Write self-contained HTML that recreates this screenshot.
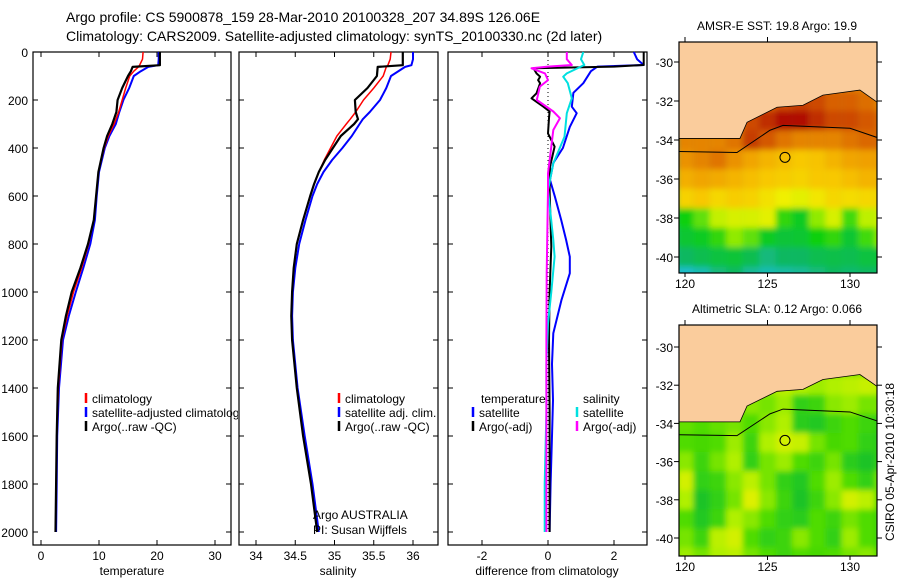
<!DOCTYPE html>
<html><head><meta charset="utf-8"><style>
html,body{margin:0;padding:0;background:#fff}
svg text{font-family:"Liberation Sans",sans-serif;fill:#000}
</style></head><body>
<svg id="fig" width="900" height="580" viewBox="0 0 900 580" xmlns="http://www.w3.org/2000/svg">
<defs>
<clipPath id="clipP1"><rect x="33" y="52" width="205" height="493"/></clipPath>
<clipPath id="clipM1"><rect x="679" y="42" width="198" height="231"/></clipPath>
<clipPath id="clipM2"><rect x="679" y="325" width="198" height="231"/></clipPath>
<filter id="blur" x="-5%" y="-5%" width="110%" height="110%"><feGaussianBlur stdDeviation="3"/></filter>
</defs>
<text x="66" y="22" font-size="14">Argo profile: CS 5900878_159 28-Mar-2010 20100328_207 34.89S 126.06E</text>
<text x="66" y="41" font-size="14">Climatology: CARS2009. Satellite-adjusted climatology: synTS_20100330.nc (2d later)</text>
<g id="g"></g>
</svg>
<script>
// ---- profile data (depth in dbar) ----
const tDep  = [0,30,55,62,80,100,150,200,250,300,350,400,500,600,700,800,900,1000,1100,1200,1400,1600,1800,2000];
const tClim = [17.6,17.5,17.0,16.8,16.0,15.3,14.6,14.0,13.4,12.6,11.6,10.9,9.9,9.5,9.1,8.2,7.0,5.6,4.5,3.6,3.0,2.7,2.6,2.5];
const tSat  = [20.3,20.3,20.2,18.5,17.2,16.0,15.2,14.2,13.5,12.9,11.8,11.0,10.0,9.6,9.3,8.5,7.3,6.0,4.8,3.8,3.1,2.8,2.7,2.6];
const tArgo = [20.5,20.5,20.5,15.8,15.5,15.0,14.0,13.2,13.0,12.3,11.4,10.8,9.9,9.5,9.1,8.1,6.8,5.3,4.3,3.5,2.9,2.7,2.6,2.5];
const sDep  = [0,30,55,62,100,150,200,250,280,300,350,400,450,500,550,600,700,800,900,1000,1100,1200,1400,1600,1800,2000];
const sClim = [35.72,35.71,35.68,35.66,35.62,35.5,35.37,35.27,35.2,35.15,35.03,34.95,34.87,34.8,34.74,34.69,34.6,34.52,34.48,34.46,34.45,34.46,34.52,34.6,34.7,34.78];
const sSat  = [36.0,36.0,35.98,35.9,35.72,35.66,35.58,35.45,35.36,35.32,35.22,35.1,34.97,34.86,34.78,34.72,34.63,34.55,34.5,34.47,34.46,34.47,34.53,34.62,34.72,34.8];
const sArgo = [35.87,35.87,35.87,35.55,35.54,35.42,35.26,35.27,35.3,35.25,35.08,34.98,34.88,34.8,34.74,34.69,34.6,34.52,34.48,34.46,34.45,34.46,34.52,34.6,34.7,34.78];
const dtSatDep = [0,30,54,61,80,130,170,228,255,312,400,462,533,603,700,783,853,922,1033,1172,1300,1450,1600,1800,2000];
const dtSat    = [2.6,2.7,2.9,1.5,1.3,1.07,0.77,0.72,0.87,0.66,0.45,0.16,0.06,0.21,0.4,0.55,0.66,0.66,0.41,0.16,0.12,0.15,0.12,0.08,0.05];
const dtArgoDep= [0,30,54,61,68,89,103,117,130,172,193,228,248,276,339,394,478,575,811,1000,1200,1500,1800,2000];
const dtArgo   = [2.9,2.9,2.9,2.0,-0.44,-0.35,-0.24,-0.3,-0.24,-0.35,-0.5,-0.14,0.05,0.03,0.0,0.2,0.06,0.05,0.1,0.05,0.03,0.05,0.05,0.05];
const dsSatDep = [0,30,54,89,103,130,193,255,353,464,575,783,853,1000,1131,1300,1500,1800,2000];
const dsSat    = [1.07,1.0,1.1,0.57,0.46,0.6,0.72,0.57,0.5,0.16,0.0,0.16,0.2,0.1,0.0,-0.05,-0.05,-0.1,-0.1];
const dsArgoDep= [0,30,54,61,68,89,117,144,200,248,276,325,394,506,575,922,1200,1500,1800,2000];
const dsArgo   = [0.57,0.57,0.72,0.0,-0.5,-0.09,0.0,-0.25,-0.34,0.16,0.36,0.16,0.1,0.0,0.0,-0.04,-0.05,-0.05,-0.05,-0.05];
const depthTicks = [0,200,400,600,800,1000,1200,1400,1600,1800,2000];
const tTicks = [0,10,20,30];
const sTicks = [34,34.5,35,35.5,36];
const dTicks = [-2,0,2];
// ---- map data ----
const mapLats = [-29,-30,-31,-32,-33,-34,-35,-36,-37,-38,-39,-40,-41];
const mapLons = [120,121,122,123,124,125,126,127,128,129,130,131,132];
const sstGrid = [
 [21,21,21,21,21,21,21,21,21,21,21,21,21],
 [21,21,21,21,21,21,21,21,21,21,21,21,21],
 [21,21,21,21,21,21,21,21,21,21,21,21,21],
 [21,21,21,21,21,21.5,21.8,22,21.8,21.5,21.5,21.3,21],
 [21,21,21,21,21.8,22.2,22.6,22.8,22.2,21.8,21.8,21.6,21.4],
 [21,21,21,21.2,22,21.6,21.2,21,21,21,21.2,21.4,21.4],
 [20.8,21,21.2,20.8,20.5,20.2,20,19.8,19.9,20.2,20.5,20.6,20.6],
 [20.3,20.5,20.4,20.2,20,19.8,19.7,19.6,19.8,19.8,20,20.2,20.2],
 [19.6,19.8,19.5,19.7,19.6,19.3,19,18.8,19.2,19.5,19.4,19.5,19.5],
 [17,17.5,18.3,18.6,18.6,18.8,17.2,16.8,17.8,18.6,17.3,18.2,18.4],
 [16.6,16.8,17.2,17.8,17.5,16.8,16.5,16.6,17,17.2,16.6,17.3,17.8],
 [16,16.2,16.4,16.5,16.2,15.8,16,16,16.2,16.3,16.2,16.4,16.5],
 [15.2,15.4,15.8,16,15.6,15.4,15.5,15.6,15.8,16,15.9,16,16]];
const slaGrid = [
 [0,0,0,0,0,0,0,0,0,0,0,0,0],
 [0,0,0,0,0,0,0,0,0,0,0,0,0],
 [0,0,0,0,0,0,0,0,0,0,0,0,0],
 [0,0,0,0,0,0.4,0.6,0.5,0.4,0.5,0.6,0.7,0.6],
 [0,0,0,0,0.3,0.2,0.4,-0.3,-0.2,0.3,0.4,0.2,0.2],
 [0.1,0.0,0.1,0.2,0.0,0.3,0.5,-0.4,-0.5,-0.2,0.0,-0.2,-0.3],
 [0.0,-0.1,0.0,0.4,-0.2,0.5,0.8,0.7,0.2,-0.1,0.0,-0.3,-0.4],
 [0.3,-0.2,0.2,0.5,-0.3,0.2,0.4,0.0,-0.2,0.2,-0.4,-0.6,-0.3],
 [0.8,-0.3,-0.2,0.3,0.6,0.2,-0.3,-0.5,0.0,0.4,0.0,-0.3,0.2],
 [0.5,-0.6,-0.3,0.2,0.9,0.3,-0.2,-0.6,-0.2,0.3,0.8,0.6,0.0],
 [0.0,-0.5,-0.2,0.5,0.3,0.0,-0.3,-0.4,0.0,-0.2,0.2,0.0,-0.2],
 [0.2,-0.2,0.6,0.8,0.0,-0.3,-0.2,0.3,0.0,-0.3,0.4,0.0,-0.2],
 [0.4,0.2,0.5,0.6,0.2,0.0,-0.2,0.0,-0.1,0.0,0.2,0.3,0.0]];
const coastLon = [119.5,123.33,123.76,125.58,127.15,128.36,130.6,131.64,132];
const coastLat = [-33.92,-33.92,-33.09,-32.32,-32.22,-31.70,-31.44,-32.06,-32.1];
const contLon = [119.5,123.15,125.15,125.94,130,131.64,132];
const contLat = [-34.59,-34.64,-33.5,-33.25,-33.4,-33.87,-33.9];
const argoLon = 126.06, argoLat = -34.89;
const mapLatTicks = [-30,-32,-34,-36,-38,-40];
const mapLonTicks = [120,125,130];

const NS='http://www.w3.org/2000/svg';
const G=document.getElementById('g');
function mk(tag,attrs,parent){const e=document.createElementNS(NS,tag);for(const k in attrs)e.setAttribute(k,attrs[k]);(parent||G).appendChild(e);return e;}
const yD = d => 52 + d*0.24;
function panel(x0,x1,v0,v1){return v=>x0+(v-v0)*(x1-x0)/(v1-v0);}
const xT = panel(41,215,0,30);
const xS = panel(256,413,34,36);
const xDf = panel(482,614,-2,2);
const panels=[{x:33,w:198,name:'temperature-panel'},{x:239,w:199,name:'salinity-panel'},{x:448,w:199,name:'difference-panel'}];
panels.forEach(p=>{
  const r=mk('rect',{x:p.x,y:52,width:p.w,height:493,fill:'#fff',stroke:'#000','stroke-width':1.2});
  
  
  depthTicks.forEach(d=>{
    const y=yD(d);
    const t1=mk('line',{x1:p.x,x2:p.x+5,y1:y,y2:y,stroke:'#000'});
    
    
    const t2=mk('line',{x1:p.x+p.w-5,x2:p.x+p.w,y1:y,y2:y,stroke:'#000'});
    
    
  });
});
depthTicks.forEach(d=>{
  const t=mk('text',{x:28,y:yD(d)+5,'font-size':12,'text-anchor':'end'});t.textContent=d;
  
  
});
function xticks(arr,fx){arr.forEach(v=>{const x=fx(v);
  const a=mk('line',{x1:x,x2:x,y1:52,y2:57,stroke:'#000'});
  
  
  const b=mk('line',{x1:x,x2:x,y1:540,y2:545,stroke:'#000'});
  
  
  const t=mk('text',{x:x,y:560,'font-size':12,'text-anchor':'middle'});t.textContent=v;
  
  
});}
xticks(tTicks,xT);xticks(sTicks,xS);xticks(dTicks,xDf);
[[132,'temperature','temperature-axis-title'],[338,'salinity','salinity-axis-title'],[547,'difference from climatology','difference-axis-title']].forEach(a=>{
  const t=mk('text',{x:a[0],y:575,'font-size':12,'text-anchor':'middle'});t.textContent=a[1];
  
  
});
const z=mk('line',{x1:xDf(0),x2:xDf(0),y1:yD(0),y2:yD(2000),stroke:'#000','stroke-dasharray':'1,3'});


function series(dep,vals,fx,color,w,name){
  const pts=dep.map((d,i)=>fx(vals[i]).toFixed(1)+','+yD(d).toFixed(1)).join(' ');
  const e=mk('polyline',{points:pts,fill:'none',stroke:color,'stroke-width':w,'stroke-linejoin':'round'});
  
  
}
series(tDep,tSat,xT,'#0000ff',2,'temperature-satellite-line');
series(tDep,tClim,xT,'#ff0000',1.5,'temperature-climatology-line');
series(tDep,tArgo,xT,'#000',2.2,'temperature-argo-line');
series(sDep,sSat,xS,'#0000ff',2,'salinity-satellite-line');
series(sDep,sClim,xS,'#ff0000',1.5,'salinity-climatology-line');
series(sDep,sArgo,xS,'#000',2.2,'salinity-argo-line');
series(dtSatDep,dtSat,xDf,'#0000ff',2,'diff-temperature-satellite-line');
series(dtArgoDep,dtArgo,xDf,'#000',2,'diff-temperature-argo-line');
series(dsSatDep,dsSat,xDf,'#00e0e0',2,'diff-salinity-satellite-line');
series(dsArgoDep,dsArgo,xDf,'#ff00ff',2,'diff-salinity-argo-line');
function leg(x,y,color,label,name,clip){
  const m=mk('line',{x1:x,x2:x,y1:y-10,y2:y,stroke:color,'stroke-width':2.5});
  
  
  const t=mk('text',{x:x+6,y:y,'font-size':12});t.textContent=label;
  
  
  if(clip)t.setAttribute('clip-path','url(#clipP1)');
}
leg(86,403,'#ff0000','climatology','legend-climatology',true);
leg(86,417,'#0000ff','satellite-adjusted climatology','legend-satellite-adjusted',true);
leg(86,431,'#000','Argo(..raw -QC)','legend-argo',true);
leg(339,403,'#ff0000','climatology','legend-sal-climatology');
leg(339,417,'#0000ff','satellite adj. clim.','legend-sal-satellite');
leg(339,431,'#000','Argo(..raw -QC)','legend-sal-argo');
[[481,403,'temperature','legend-temperature-header'],[583,403,'salinity','legend-salinity-header']].forEach(a=>{
  const t=mk('text',{x:a[0],y:a[1],'font-size':12});t.textContent=a[2];
  
  
});
leg(473,417,'#0000ff','satellite','legend-diff-temp-satellite');
leg(473,431,'#000','Argo(-adj)','legend-diff-temp-argo');
leg(577,417,'#00e0e0','satellite','legend-diff-sal-satellite');
leg(577,431,'#ff00ff','Argo(-adj)','legend-diff-sal-argo');
[[313,519,'Argo AUSTRALIA','credit-argo-australia'],[313,534,'PI: Susan Wijffels','credit-pi']].forEach(a=>{
  const t=mk('text',{x:a[0],y:a[1],'font-size':12});t.textContent=a[2];
  
  
});
// ---- maps ----
function lerpColor(stops,v){
  if(v<=stops[0][0])return stops[0][1];
  for(let i=1;i<stops.length;i++){if(v<=stops[i][0]){const a=stops[i-1],b=stops[i],f=(v-a[0])/(b[0]-a[0]);
    return a[1].map((x,k)=>Math.round(x+(b[1][k]-x)*f));}}
  return stops[stops.length-1][1];
}
const sstStops=[[15,[30,190,230]],[16,[16,184,96]],[17,[16,208,16]],[18,[176,240,0]],[19,[240,240,0]],[19.8,[248,200,0]],[20.6,[240,160,0]],[21.5,[216,96,0]],[22.6,[176,16,0]]];
const slaStops=[[-1,[16,176,64]],[-0.5,[32,200,32]],[0,[80,220,0]],[0.5,[176,240,0]],[1,[232,240,0]]];
function drawMap(top,bot,latTop,latPerPx,grid,stops,clip,prefix,title){
  const X=lon=>685+(lon-120)*16.5;
  const Y=lat=>latTop+(-30-lat)*latPerPx;
  const g=mk('g',{'clip-path':'url(#'+clip+')'});
  
  
  const bg=mk('rect',{x:679,y:top,width:198,height:bot-top,fill:'rgb('+lerpColor(stops,grid[grid.length-1][5]).join(',')+')'},g);
  
  
  const hg=mk('g',{filter:'url(#blur)'},g);
  mapLats.forEach((lat,i)=>mapLons.forEach((lon,j)=>{
    const c=lerpColor(stops,grid[i][j]);
    const r=mk('rect',{x:X(lon-0.5),y:Y(lat+0.5),width:16.6,height:latPerPx+0.5,fill:'rgb('+c.join(',')+')'},hg);
    
    
  }));
  const land='M'+X(119)+','+(top-5)+' L'+X(119)+','+Y(coastLat[0])+' '+coastLon.map((l,i)=>'L'+X(l)+','+Y(coastLat[i])).join(' ')+' L'+X(132.5)+','+(top-5)+'Z';
  const lp=mk('path',{d:land,fill:'#facc9c',stroke:'#000','stroke-width':0.8},g);
  
  
  const cp=mk('polyline',{points:contLon.map((l,i)=>X(l)+','+Y(contLat[i])).join(' '),fill:'none',stroke:'#000','stroke-width':1},g);
  
  
  const ci=mk('circle',{cx:X(argoLon),cy:Y(argoLat),r:5,fill:'none',stroke:'#000','stroke-width':1});
  
  
  const fr=mk('rect',{x:679,y:top,width:198,height:bot-top,fill:'none',stroke:'#000','stroke-width':1.2});
  
  
  mapLatTicks.forEach(l=>{const y=Y(l);
    const a=mk('line',{x1:674,x2:679,y1:y,y2:y,stroke:'#000'});
    
    
    const b=mk('line',{x1:877,x2:882,y1:y,y2:y,stroke:'#000'});
    
    
    const t=mk('text',{x:673,y:y+5,'font-size':12,'text-anchor':'end'});t.textContent=l;
    
    
  });
  mapLonTicks.forEach(l=>{const x=X(l);
    const a=mk('line',{x1:x,x2:x,y1:top-5,y2:top,stroke:'#000'});
    
    
    const b=mk('line',{x1:x,x2:x,y1:bot,y2:bot+4,stroke:'#000'});
    
    
    const t=mk('text',{x:x,y:bot+15,'font-size':12,'text-anchor':'middle'});t.textContent=l;
    
    
  });
  const tt=mk('text',{x:777,y:top-12,'font-size':12,'text-anchor':'middle'});tt.textContent=title;
  
  
}
drawMap(42,273,62,19.5,sstGrid,sstStops,'clipM1','sst','AMSR-E SST: 19.8 Argo: 19.9');
drawMap(325,556,347,19.1,slaGrid,slaStops,'clipM2','sla','Altimetric SLA: 0.12 Argo: 0.066');
const cr=mk('text',{x:0,y:0,'font-size':12,'text-anchor':'middle',transform:'translate(894,462) rotate(-90)'});
cr.textContent='CSIRO 05-Apr-2010 10:30:18';


</script>
</body></html>
